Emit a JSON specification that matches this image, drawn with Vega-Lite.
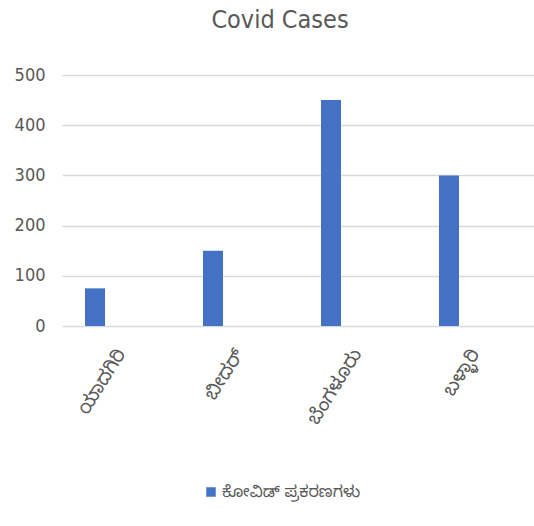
{
  "$schema": "https://vega.github.io/schema/vega-lite/v6.json",
  "autosize": {"type": "none"},
  "padding": {"left": 62, "top": 75, "right": 0, "bottom": 200},
  "width": 472,
  "height": 251,
  "background": "white",
  "title": {
    "text": "Covid Cases",
    "font": "DejaVu Sans Condensed, Liberation Sans, sans-serif",
    "fontSize": 25,
    "fontWeight": "normal",
    "color": "#595959",
    "offset": 33,
    "dx": -18
  },
  "data": {
    "values": [
      {"district": "ಯಾದಗಿರಿ", "cases": 75, "series": "ಕೋವಿಡ್ ಪ್ರಕರಣಗಳು"},
      {"district": "ಬೀದರ್", "cases": 150, "series": "ಕೋವಿಡ್ ಪ್ರಕರಣಗಳು"},
      {"district": "ಬೆಂಗಳೂರು", "cases": 450, "series": "ಕೋವಿಡ್ ಪ್ರಕರಣಗಳು"},
      {"district": "ಬಳ್ಳಾರಿ", "cases": 300, "series": "ಕೋವಿಡ್ ಪ್ರಕರಣಗಳು"}
    ]
  },
  "mark": {"type": "bar", "width": 20, "xOffset": -26},
  "encoding": {
    "x": {
      "field": "district",
      "type": "nominal",
      "sort": null,
      "scale": {"paddingInner": 0, "paddingOuter": 0},
      "axis": {
        "title": null,
        "labelAngle": -58,
        "labelAlign": "right",
        "labelBaseline": "middle",
        "labelPadding": 24,
        "labelFontSize": 19,
        "labelFont": "Noto Sans Kannada, Noto Sans, sans-serif",
        "labelColor": "#595959",
        "domain": false,
        "ticks": false,
        "grid": false
      }
    },
    "y": {
      "field": "cases",
      "type": "quantitative",
      "scale": {"domain": [0, 500]},
      "axis": {
        "title": null,
        "values": [0, 100, 200, 300, 400, 500],
        "labelFont": "DejaVu Sans Condensed, Liberation Sans, sans-serif",
        "labelFontSize": 18,
        "labelColor": "#595959",
        "labelPadding": 17,
        "domain": false,
        "ticks": false,
        "gridColor": "#d9d9d9",
        "gridWidth": 1.5
      }
    },
    "color": {
      "field": "series",
      "type": "nominal",
      "scale": {"range": ["#4472C4"]},
      "legend": {
        "orient": "none",
        "legendX": 141,
        "legendY": 409,
        "title": null,
        "symbolType": "square",
        "symbolSize": 90,
        "symbolStrokeWidth": 0,
        "labelOffset": 3,
        "labelFont": "Noto Sans Kannada, Noto Sans, sans-serif",
        "labelFontSize": 16,
        "labelColor": "#595959"
      }
    }
  },
  "config": {"view": {"stroke": null}}
}
